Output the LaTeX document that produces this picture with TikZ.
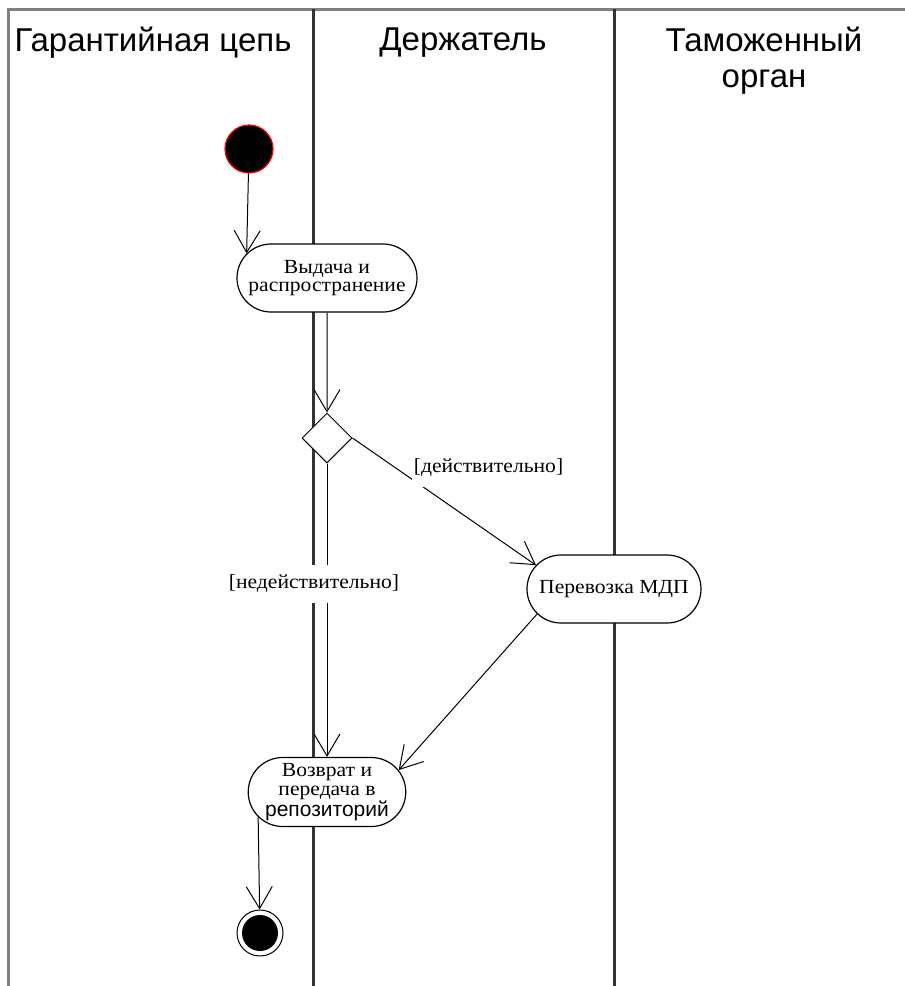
\documentclass[tikz,border=0pt]{standalone}
\usepackage{fontspec}
\setmainfont{Liberation Serif}
\newfontfamily\lanefont{Liberation Sans}
\newfontfamily\actfont[FakeStretch=1.08]{Liberation Serif}
\usetikzlibrary{shapes.misc,shapes.geometric,arrows.meta}

\begin{document}
\begin{tikzpicture}[x=1pt,y=-1pt,
    frame/.style={draw=black!50,line width=3pt},
    lane/.style={draw=black!80,line width=3pt},
    lanehead/.style={align=center,font=\lanefont\fontsize{33}{36}\selectfont},
    activity/.style={shape=rounded rectangle,draw=black,line width=1.2pt,fill=white,
        align=center,inner sep=2pt,font=\actfont\fontsize{20}{18.5}\selectfont},
    flow/.style={-{Straight Barb[length=22pt,width=26pt]},line width=1pt},
    guard/.style={fill=white,inner xsep=2pt,inner ysep=10pt,font=\actfont\fontsize{20}{22}\selectfont}]
  \useasboundingbox (0,0) rectangle (905,986);

  % swimlanes
  \draw[frame] (905,9) -- (8,9) -- (8,986);
  \draw[lane] (313,9) -- (313,986);
  \draw[lane] (614,9) -- (614,986);
  \node[lanehead] (chain) at (153,43) {Гарантийная цепь};
  \node[lanehead] (holder) at (463,43) {Держатель};
  \node[lanehead] (customs) at (764,61) {Таможенный\\орган};

  % vertices
  \node[shape=circle,draw=red,fill=black,line width=1.2pt,minimum size=48pt,inner sep=0pt] (init) at (249,149) {};
  \node[activity,minimum width=184pt,minimum height=68pt] (issue) at (327,278) {Выдача и\\распространение};
  \node[shape=diamond,draw=black,fill=white,line width=1pt,minimum size=50pt,inner sep=0pt] (check) at (327,438) {};
  \node[activity,minimum width=178pt,minimum height=68pt] (transport) at (614,589) {Перевозка МДП};
  \node[activity,minimum width=154pt,minimum height=69pt] (return) at (327,792)
      {Возврат и\\передача в\\{\lanefont\fontsize{21}{19}\selectfont репозиторий}};
  \node[shape=circle,draw=black,fill=white,line width=1pt,minimum size=46pt,inner sep=0pt,
      path picture={\fill[black] (path picture bounding box.center) circle (18pt);}] (final) at (260,933) {};

  % edges
  \draw[flow] (init) -- (issue.163);
  \draw[flow] (issue) -- (check);
  \draw[flow] (check.east) -- (transport.163) node[guard,pos=0.36,xshift=70pt,yshift=16pt] {[действительно]};
  \draw[flow] (check.south) -- (return.north) node[guard,pos=0.41,xshift=-13pt] {[недействительно]};
  \draw[flow] (transport.198) -- (return.17);
  \draw[flow] (return.200) -- (final);
\end{tikzpicture}
\end{document}
